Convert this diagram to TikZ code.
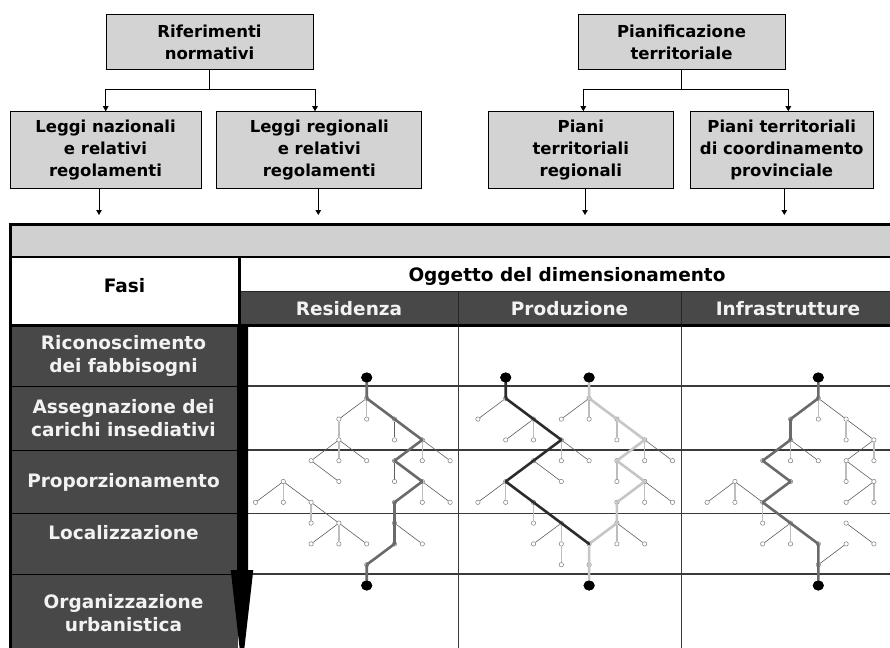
\documentclass[tikz,border=0pt]{standalone}
\usepackage{fontspec}
\setmainfont{DejaVu Sans}
\usetikzlibrary{arrows.meta,shapes.geometric}

\definecolor{boxgray}{HTML}{D3D3D3}
\definecolor{bandgray}{HTML}{D0D0D0}
\definecolor{cellgray}{HTML}{484848}
\definecolor{textwhite}{HTML}{F2F2F2}
\definecolor{rulegray}{HTML}{3A3A3A}
\definecolor{pathmid}{HTML}{6A6A6A}
\definecolor{pathdark}{HTML}{2C2C2C}
\definecolor{pathlight}{HTML}{C6C6C6}
\definecolor{stemgray}{HTML}{BDBDBD}
\definecolor{twiggray}{HTML}{5E5E5E}
\definecolor{nodegray}{HTML}{7A7A7A}

\tikzset{
  refbox/.style={draw=black, line width=1pt, fill=boxgray, align=center,
    inner sep=0pt, font=\fontsize{16.5}{21.7}\selectfont\bfseries},
  conn/.style={line width=0.8pt, -{Triangle[length=5pt,width=5.5pt]}},
  link/.style={line width=0.8pt},
  hdrtext/.style={font=\fontsize{18.5}{23}\selectfont\bfseries, align=center, inner sep=0pt},
  darktext/.style={hdrtext, text=textwhite},
  tn/.style={circle, draw=nodegray, fill=white, line width=0.5pt, inner sep=0pt, minimum size=4.4pt},
  twig/.style={draw=twiggray, line width=0.6pt},
  stem/.style={draw=stemgray, line width=1.3pt},
  route/.style={line width=2.6pt, line join=round, line cap=round},
  endpt/.style={ellipse, fill=black, inner sep=0pt, minimum width=11pt, minimum height=10pt},
}

\begin{document}
\begin{tikzpicture}[x=1pt, y=-1pt]
\useasboundingbox (0,0) rectangle (890,647);
\clip (0,0) rectangle (890,647);

% ---------- reference boxes ----------
\node[refbox, minimum width=207pt, minimum height=55pt] (rif) at (209.5,42.5) {Riferimenti\\normativi};
\node[refbox, minimum width=191pt, minimum height=76.5pt] (lnaz) at (105.5,150) {Leggi nazionali\\e relativi\\regolamenti};
\node[refbox, minimum width=205pt, minimum height=76.5pt] (lreg) at (319.3,150) {Leggi regionali\\e relativi\\regolamenti};

\node[refbox, minimum width=207pt, minimum height=55pt] (pian) at (681.5,42.5) {Pianificazione\\territoriale};
\node[refbox, minimum width=185pt, minimum height=76.5pt] (ptr) at (580.8,150) {Piani\\territoriali\\regionali};
\node[refbox, minimum width=183pt, minimum height=76.5pt] (ptcp) at (781.7,150) {Piani territoriali\\di coordinamento\\provinciale};

% branch points and arrow ends
\coordinate (jl) at (209.5,89.3);
\coordinate (jr) at (681.5,89.3);
\coordinate (dl1) at (105.7,89.3);
\coordinate (dl2) at (315,89.3);
\coordinate (dr1) at (583.3,89.3);
\coordinate (dr2) at (788.3,89.3);
\coordinate (e1) at (99,215);
\coordinate (e2) at (318.3,215);
\coordinate (e3) at (585,215);
\coordinate (e4) at (784.3,215);

\draw[link] (rif.south) -- (jl);
\draw[link] (dl1) -- (dl2);
\draw[conn] (dl1) -- (dl1 |- lnaz.north);
\draw[conn] (dl2) -- (dl2 |- lreg.north);
\draw[link] (pian.south) -- (jr);
\draw[link] (dr1) -- (dr2);
\draw[conn] (dr1) -- (dr1 |- ptr.north);
\draw[conn] (dr2) -- (dr2 |- ptcp.north);

\draw[conn] (e1 |- lnaz.south) -- (e1);
\draw[conn] (e2 |- lreg.south) -- (e2);
\draw[conn] (e3 |- ptr.south) -- (e3);
\draw[conn] (e4 |- ptcp.south) -- (e4);

% ---------- table ----------
\fill[bandgray] (10,225) rectangle (895,256.5);
\draw[line width=3pt] (8.5,224.5) -- (895,224.5);
\draw[line width=2.6pt] (10,256.8) -- (895,256.8);

\fill[cellgray] (240,291.5) rectangle (895,324.5);
\draw[line width=1pt, black!85] (240,291.3) -- (895,291.3);
\draw[line width=1pt, black!85] (458.3,291.5) -- (458.3,324.5);
\draw[line width=1pt, black!85] (681,291.5) -- (681,324.5);

\fill[cellgray] (10,326) rectangle (238,650);
\draw[line width=2.6pt] (10,325.5) -- (895,325.5);

% row rules
\foreach \yy in {386,450,513.7,574} {
  \draw[line width=0.8pt] (10,\yy) -- (238,\yy);
  \draw[line width=1.5pt, rulegray] (248,\yy) -- (895,\yy);
}
\draw[line width=1pt, rulegray] (458.3,326.5) -- (458.3,650);
\draw[line width=1pt, rulegray] (681,326.5) -- (681,650);

% frame
\draw[line width=3pt] (10,223) -- (10,650);
\draw[line width=3pt] (239.3,257) -- (239.3,326);

% phase arrow
\fill[black] (237,326) -- (248,326) -- (248,570) -- (253.3,570) -- (242,669)
  -- (230.7,570) -- (237,570) -- cycle;

% header texts
\node[hdrtext] (fasi) at (124.5,286) {Fasi};
\node[hdrtext] (ogg) at (567,276) {Oggetto del dimensionamento};
\node[darktext] (res) at (349,309) {Residenza};
\node[darktext] (prod) at (569.6,309) {Produzione};
\node[darktext] (infr) at (788,309) {Infrastrutture};

% phase texts
\node[darktext] (f1) at (123.5,356) {Riconoscimento\\dei fabbisogni};
\node[darktext] (f2) at (123.5,418) {Assegnazione dei\\carichi insediativi};
\node[darktext] (f3) at (123.5,482) {Proporzionamento};
\node[darktext] (f4) at (123.5,533) {Localizzazione};
\node[darktext] (f5) at (123.5,613) {Organizzazione\\urbanistica};

% ---------- Residenza tree ----------
\begin{scope}[shift={(255.5,398.3)}, x=27.8pt, y=-20.8pt]
  \foreach \c/\l in {4/0, 3/1,4/1,5/1, 3/2,5/2,6/2, 2/3,3/3,4/3,5/3,6/3,7/3,
      1/4,3/4,5/4,6/4, 0/5,1/5,2/5,5/5,6/5,7/5, 2/6,3/6,5/6, 2/7,3/7,4/7,5/7,6/7, 4/8}
    \node[tn] (r\c\l) at (\c,\l) {};
  \node[endpt] (rt) at (4,-1) {};
  \node[endpt] (rb) at (4,9) {};
  \foreach \a/\b/\c/\d in {4/0/3/1, 3/2/2/3, 3/2/4/3, 2/3/3/4, 6/2/7/3, 5/1/5/2, 5/3/5/4,
      6/4/7/5, 1/4/0/5, 1/4/2/5, 2/5/3/6, 3/6/2/7, 3/6/4/7, 5/6/6/7}
    \draw[twig] (r\a\b) -- (r\c\d);
  \foreach \a/\b/\c/\d in {4/0/4/1, 3/1/3/2, 3/2/3/3, 6/2/6/3, 6/4/6/5, 1/4/1/5, 2/5/2/6, 3/6/3/7}
    \draw[stem] (r\a\b) -- (r\c\d);
  \draw[route, pathmid] (rt.center) -- (r40.center) -- (r51.center) -- (r62.center)
    -- (r53.center) -- (r64.center) -- (r55.center) -- (r56.center) -- (r57.center)
    -- (r48.center) -- (rb.center);
  \node[endpt] at (rt) {};
  \node[endpt] at (rb) {};
\end{scope}

% ---------- Produzione tree ----------
\begin{scope}[shift={(477.9,398.3)}, x=27.8pt, y=-20.8pt]
  \foreach \c/\l in {1/0,4/0, 0/1,2/1,3/1,4/1,5/1, 1/2,2/2,3/2,5/2,6/2, 2/3,3/3,4/3,5/3,6/3,7/3,
      1/4,3/4,5/4,6/4, 0/5,1/5,2/5,5/5,6/5,7/5, 2/6,3/6,5/6, 2/7,3/7,4/7,5/7,6/7, 3/8,4/8}
    \node[tn] (p\c\l) at (\c,\l) {};
  \node[endpt] (pta) at (1,-1) {};
  \node[endpt] (ptb) at (4,-1) {};
  \node[endpt] (pb) at (4,9) {};
  \foreach \a/\b/\c/\d in {1/0/0/1, 2/1/1/2, 3/2/4/3, 2/3/3/4, 1/4/0/5, 3/6/2/7,
      4/0/3/1, 6/2/7/3, 6/4/7/5, 5/6/6/7}
    \draw[twig] (p\a\b) -- (p\c\d);
  \foreach \a/\b/\c/\d in {2/1/2/2, 3/2/3/3, 1/4/1/5, 2/5/2/6, 3/6/3/7, 3/7/3/8,
      4/0/4/1, 5/1/5/2, 6/2/6/3, 5/3/5/4, 6/4/6/5, 5/6/5/7}
    \draw[stem] (p\a\b) -- (p\c\d);
  \draw[route, pathlight] (ptb.center) -- (p40.center) -- (p51.center) -- (p62.center)
    -- (p53.center) -- (p64.center) -- (p55.center) -- (p56.center) -- (p47.center)
    -- (p48.center) -- (pb.center);
  \draw[route, pathdark] (pta.center) -- (p10.center) -- (p21.center) -- (p32.center)
    -- (p23.center) -- (p14.center) -- (p25.center) -- (p36.center) -- (p47.center);
  \node[endpt] at (pta) {};
  \node[endpt] at (ptb) {};
  \node[endpt] at (pb) {};
\end{scope}

% ---------- Infrastrutture tree ----------
\begin{scope}[shift={(707.1,398.3)}, x=27.8pt, y=-20.8pt]
  \foreach \c/\l in {4/0, 3/1,4/1,5/1, 3/2,5/2,6/2, 2/3,3/3,4/3,5/3,6/3,
      1/4,3/4,5/4,6/4, 0/5,1/5,2/5,5/5,6/5, 2/6,3/6,5/6, 2/7,3/7,4/7,5/7,6/7, 4/8}
    \node[tn] (i\c\l) at (\c,\l) {};
  \node[endpt] (it) at (4,-1) {};
  \node[endpt] (ib) at (4,9) {};
  \foreach \a/\b/\c/\d in {4/0/5/1, 5/1/6/2, 3/2/4/3, 6/2/5/3, 5/3/6/4, 6/4/5/5,
      1/4/0/5, 1/4/2/5, 3/6/2/7, 5/6/6/7, 4/8/5/7}
    \draw[twig] (i\a\b) -- (i\c\d);
  \foreach \a/\b/\c/\d in {4/0/4/1, 5/1/5/2, 3/2/3/3, 6/2/6/3, 5/3/5/4, 6/4/6/5,
      1/4/1/5, 2/5/2/6, 3/6/3/7}
    \draw[stem] (i\a\b) -- (i\c\d);
  \draw[route, pathmid] (it.center) -- (i40.center) -- (i31.center) -- (i32.center)
    -- (i23.center) -- (i34.center) -- (i25.center) -- (i36.center) -- (i47.center)
    -- (i48.center) -- (ib.center);
  \node[endpt] at (it) {};
  \node[endpt] at (ib) {};
\end{scope}
\end{tikzpicture}
\end{document}
